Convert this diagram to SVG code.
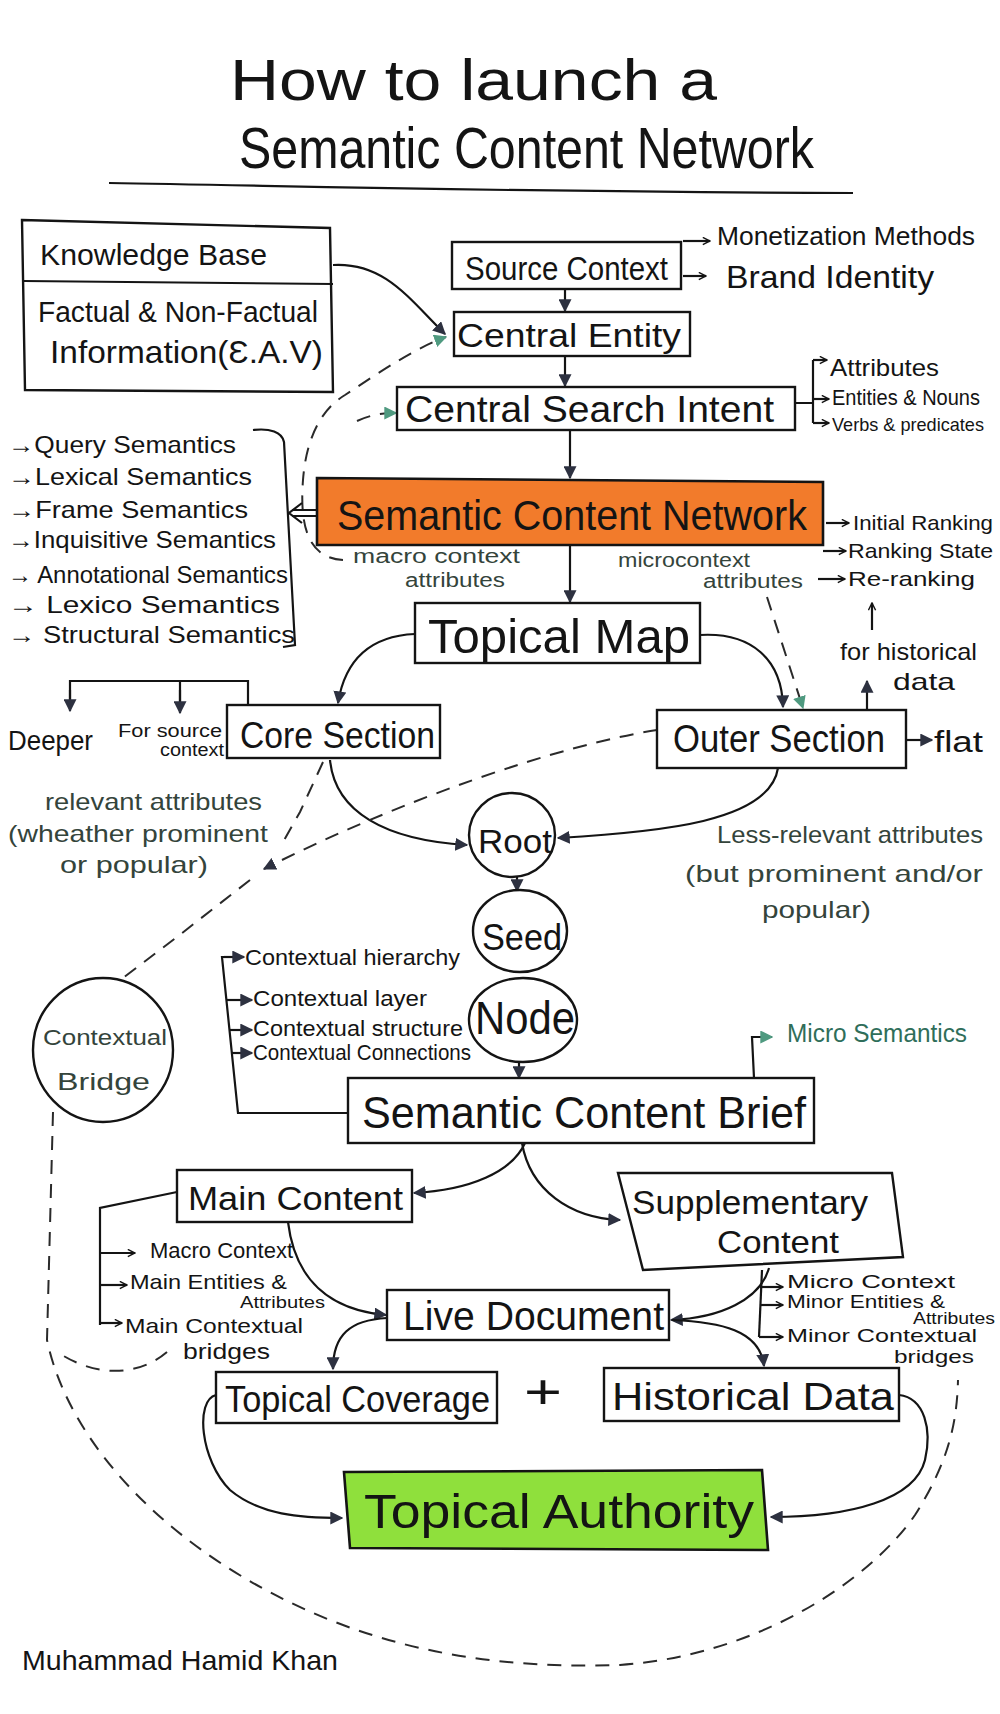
<svg xmlns="http://www.w3.org/2000/svg" width="1000" height="1714" viewBox="0 0 1000 1714">
<style>
.t{font-family:"Liberation Sans","DejaVu Sans",sans-serif;fill:#141414}
.an{font-family:"Liberation Sans","DejaVu Sans",sans-serif;fill:#34443b}
.gr{font-family:"Liberation Sans","DejaVu Sans",sans-serif;fill:#2f6e5a}
.box{fill:#fff;stroke:#141414;stroke-width:2.4}
.ln{fill:none;stroke:#141414;stroke-width:2.2}
.dash{fill:none;stroke:#2a2a2a;stroke-width:2;stroke-dasharray:14 10}
</style>
<defs>
<marker id="ah" viewBox="0 0 10 10" refX="9" refY="5" markerWidth="13" markerHeight="13" markerUnits="userSpaceOnUse" orient="auto"><path d="M0,0 L10,5 L0,10 z" fill="#2d3140"/></marker>
<marker id="ahg" viewBox="0 0 10 10" refX="9" refY="5" markerWidth="13" markerHeight="13" markerUnits="userSpaceOnUse" orient="auto"><path d="M0,0 L10,5 L0,10 z" fill="#4f9a80"/></marker>
<marker id="oa" viewBox="0 0 10 10" refX="9" refY="5" markerWidth="9" markerHeight="9" markerUnits="userSpaceOnUse" orient="auto"><path d="M1,1 L9,5 L1,9" fill="none" stroke="#141414" stroke-width="1.6"/></marker>
</defs>
<rect width="1000" height="1714" fill="#fff"/>

<g id="title">
<text class="t" x="230" y="100" font-size="58" textLength="487" lengthAdjust="spacingAndGlyphs">How to launch a</text>
<text class="t" x="239" y="168" font-size="58" textLength="575" lengthAdjust="spacingAndGlyphs">Semantic Content Network</text>
<path class="ln" d="M 109,183 C 300,186 500,192 853,193"/>
</g>

<g id="connectors">
<path class="ln" d="M 333,265 C 385,262 410,300 445,334" marker-end="url(#ah)"/>
<line class="ln" x1="565" y1="289" x2="565" y2="311" marker-end="url(#ah)"/>
<line class="ln" x1="565" y1="356" x2="565" y2="386" marker-end="url(#ah)"/>
<line class="ln" x1="570" y1="430" x2="570" y2="478" marker-end="url(#ah)"/>
<line class="ln" x1="570" y1="545" x2="570" y2="602" marker-end="url(#ah)"/>
<line class="ln" x1="683" y1="241" x2="710" y2="241" marker-end="url(#oa)"/>
<line class="ln" x1="683" y1="276" x2="706" y2="276" marker-end="url(#oa)"/>
<path class="ln" d="M 795,403 L 813,403 M 813,360 L 813,423"/>
<path class="ln" d="M 813,360 L 827,360" marker-end="url(#oa)"/>
<path class="ln" d="M 813,399 L 829,399" marker-end="url(#oa)"/>
<path class="ln" d="M 813,423 L 829,423" marker-end="url(#oa)"/>
<line class="ln" x1="826" y1="523" x2="849" y2="523" marker-end="url(#oa)"/>
<line class="ln" x1="823" y1="551" x2="846" y2="551" marker-end="url(#oa)"/>
<line class="ln" x1="818" y1="579" x2="845" y2="579" marker-end="url(#oa)"/>
<path class="dash" d="M 343,560 C 305,558 300,520 303,480 C 306,440 320,410 345,395 C 380,372 415,348 446,337" stroke-dasharray="13 9" marker-end="url(#ahg)"/>
<path class="dash" d="M 357,421 C 370,415 382,413 396,413" stroke-dasharray="10 7" marker-end="url(#ahg)"/>
<path class="ln" d="M 317,510 L 292,510 M 317,516 L 292,516 M 302,503 L 289,513 L 302,523"/>
<path class="ln" d="M 253,430 C 270,428 282,432 284,442 L 295,645 L 283,647"/>
<path class="dash" d="M 767,597 L 803,708" stroke-dasharray="12 8" marker-end="url(#ahg)"/>
<line class="ln" x1="872" y1="630" x2="872" y2="603" marker-end="url(#oa)"/>
<line class="ln" x1="867" y1="710" x2="867" y2="681" marker-end="url(#ah)"/>
<path class="ln" d="M 700,635 C 752,632 782,660 783,707" marker-end="url(#ah)"/>
<path class="ln" d="M 415,634 C 370,636 345,660 338,703" marker-end="url(#ah)"/>
<path class="ln" d="M 248,705 L 248,681 L 70,681 L 70,709 M 180,681 L 180,711"/>
<line class="ln" x1="70" y1="690" x2="70" y2="711" marker-end="url(#ah)"/>
<line class="ln" x1="180" y1="690" x2="180" y2="713" marker-end="url(#ah)"/>
<line class="ln" x1="906" y1="740" x2="932" y2="740" marker-end="url(#ah)"/>
<path class="ln" d="M 330,760 C 335,812 385,840 467,845" marker-end="url(#ah)"/>
<path class="ln" d="M 778,768 C 770,822 660,832 558,838" marker-end="url(#ah)"/>
<path class="dash" d="M 323,762 L 300,812 L 283,842"/>
<path class="dash" d="M 657,730 C 560,745 400,800 264,869" marker-end="url(#ah)"/>
<path class="dash" d="M 250,880 L 177,937 L 123,978"/>
<line class="ln" x1="517" y1="877" x2="517" y2="891" marker-end="url(#ah)"/>
<line class="ln" x1="519" y1="1062" x2="519" y2="1078" marker-end="url(#ah)"/>
<path class="ln" d="M 238,957 L 222,957 L 238,1113 L 348,1113"/>
<line class="ln" x1="224" y1="957" x2="244" y2="957" marker-end="url(#ah)"/>
<line class="ln" x1="227" y1="1000" x2="252" y2="1000" marker-end="url(#ah)"/>
<line class="ln" x1="230" y1="1030" x2="252" y2="1030" marker-end="url(#ah)"/>
<line class="ln" x1="232" y1="1053" x2="252" y2="1053" marker-end="url(#ah)"/>
<path class="ln" d="M 754,1078 L 752,1037 L 772,1037" stroke="#2f6e5a" stroke-width="1.8" marker-end="url(#ahg)"/>
<path class="ln" d="M 525,1143 C 512,1172 470,1190 414,1193" marker-end="url(#ah)"/>
<path class="ln" d="M 522,1143 C 530,1190 570,1218 620,1220" marker-end="url(#ah)"/>
<path class="ln" d="M 177,1192 L 100,1208 L 100,1325"/>
<line class="ln" x1="100" y1="1253" x2="135" y2="1253" marker-end="url(#oa)"/>
<line class="ln" x1="100" y1="1285" x2="127" y2="1285" marker-end="url(#oa)"/>
<line class="ln" x1="100" y1="1323" x2="122" y2="1323" marker-end="url(#oa)"/>
<path class="ln" d="M 288,1222 C 295,1280 330,1310 386,1315" marker-end="url(#ah)"/>
<path class="ln" d="M 387,1318 C 350,1320 333,1335 333,1369" marker-end="url(#ah)"/>
<path class="ln" d="M 769,1268 C 760,1300 720,1318 671,1320" marker-end="url(#ah)"/>
<path class="ln" d="M 672,1320 C 720,1322 760,1330 764,1366" marker-end="url(#ah)"/>
<path class="ln" d="M 762,1270 L 759,1337"/>
<line class="ln" x1="760" y1="1287" x2="783" y2="1287" marker-end="url(#oa)"/>
<line class="ln" x1="760" y1="1305" x2="783" y2="1305" marker-end="url(#oa)"/>
<line class="ln" x1="759" y1="1337" x2="783" y2="1337" marker-end="url(#oa)"/>
<path class="ln" d="M 216,1395 C 195,1400 200,1460 230,1490 C 260,1515 300,1518 342,1518" marker-end="url(#ah)"/>
<path class="ln" d="M 899,1395 C 925,1398 932,1430 925,1460 C 915,1500 850,1517 771,1517" marker-end="url(#ah)"/>
<path class="dash" d="M 53,1112 L 47,1340 C 70,1450 180,1560 330,1620 C 430,1660 530,1668 620,1665 C 760,1655 870,1580 915,1515 C 950,1460 957,1420 958,1380"/>
<path class="dash" d="M 167,1352 C 140,1375 100,1378 62,1355"/>
</g>

<g id="knowledge-base">
<path class="box" d="M 22,220 L 330,228 L 333,392 L 25,390 Z"/>
<line class="ln" x1="24" y1="281" x2="333" y2="284"/>
<text class="t" x="40" y="265" font-size="30" textLength="227" lengthAdjust="spacingAndGlyphs">Knowledge Base</text>
<text class="t" x="38" y="322" font-size="30" textLength="280" lengthAdjust="spacingAndGlyphs">Factual &amp; Non-Factual</text>
<text class="t" x="50" y="363" font-size="32" textLength="273" lengthAdjust="spacingAndGlyphs">Information(Ɛ.A.V)</text>
</g>

<g id="source-context">
<rect class="box" x="452" y="242" width="229" height="47"/>
<text class="t" x="465" y="280" font-size="34" textLength="203" lengthAdjust="spacingAndGlyphs">Source Context</text>
<text class="t" x="717" y="245" font-size="26" textLength="258" lengthAdjust="spacingAndGlyphs">Monetization Methods</text>
<text class="t" x="726" y="288" font-size="32" textLength="208" lengthAdjust="spacingAndGlyphs">Brand Identity</text>
</g>

<g id="central-entity">
<rect class="box" x="454" y="312" width="236" height="44"/>
<text class="t" x="457" y="347" font-size="34" textLength="224" lengthAdjust="spacingAndGlyphs">Central Entity</text>
</g>

<g id="central-search-intent">
<rect class="box" x="397" y="387" width="398" height="43"/>
<text class="t" x="405" y="422" font-size="36" textLength="369" lengthAdjust="spacingAndGlyphs">Central Search Intent</text>
<text class="t" x="830" y="376" font-size="24" textLength="109" lengthAdjust="spacingAndGlyphs">Attributes</text>
<text class="t" x="832" y="405" font-size="22" textLength="148" lengthAdjust="spacingAndGlyphs">Entities &amp; Nouns</text>
<text class="t" x="832" y="431" font-size="19" textLength="152" lengthAdjust="spacingAndGlyphs">Verbs &amp; predicates</text>
</g>

<g id="semantic-content-network">
<path d="M 317,478 L 823,482 L 823,545 L 317,545 Z" fill="#f27b2b" stroke="#141414" stroke-width="2.6"/>
<text class="t" x="337" y="530" font-size="42" textLength="470" lengthAdjust="spacingAndGlyphs">Semantic Content Network</text>
<text class="an" x="353" y="563" font-size="20" textLength="167" lengthAdjust="spacingAndGlyphs">macro context</text>
<text class="an" x="405" y="587" font-size="20" textLength="100" lengthAdjust="spacingAndGlyphs">attributes</text>
<text class="an" x="618" y="567" font-size="20" textLength="132" lengthAdjust="spacingAndGlyphs">microcontext</text>
<text class="an" x="703" y="588" font-size="20" textLength="100" lengthAdjust="spacingAndGlyphs">attributes</text>
<text class="t" x="853" y="530" font-size="21" textLength="140" lengthAdjust="spacingAndGlyphs">Initial Ranking</text>
<text class="t" x="848" y="558" font-size="21" textLength="145" lengthAdjust="spacingAndGlyphs">Ranking State</text>
<text class="t" x="848" y="586" font-size="21" textLength="127" lengthAdjust="spacingAndGlyphs">Re-ranking</text>
<text class="t" x="840" y="660" font-size="24" textLength="137" lengthAdjust="spacingAndGlyphs">for historical</text>
<text class="t" x="893" y="690" font-size="24" textLength="62" lengthAdjust="spacingAndGlyphs">data</text>
</g>

<g id="semantics-list">
<text class="t" x="8" y="453" font-size="24" textLength="228" lengthAdjust="spacingAndGlyphs">→Query Semantics</text>
<text class="t" x="8" y="485" font-size="24" textLength="244" lengthAdjust="spacingAndGlyphs">→Lexical Semantics</text>
<text class="t" x="8" y="518" font-size="24" textLength="240" lengthAdjust="spacingAndGlyphs">→Frame Semantics</text>
<text class="t" x="8" y="548" font-size="24" textLength="268" lengthAdjust="spacingAndGlyphs">→Inquisitive Semantics</text>
<text class="t" x="8" y="583" font-size="24" textLength="280" lengthAdjust="spacingAndGlyphs">→ Annotational Semantics</text>
<text class="t" x="8" y="613" font-size="24" textLength="272" lengthAdjust="spacingAndGlyphs">→ Lexico Semantics</text>
<text class="t" x="8" y="643" font-size="24" textLength="287" lengthAdjust="spacingAndGlyphs">→ Structural Semantics</text>
</g>

<g id="topical-map">
<rect class="box" x="415" y="603" width="285" height="60"/>
<text class="t" x="428" y="653" font-size="48" textLength="262" lengthAdjust="spacingAndGlyphs">Topical Map</text>
</g>

<g id="core-section">
<rect class="box" x="227" y="705" width="213" height="53"/>
<text class="t" x="240" y="748" font-size="36" textLength="195" lengthAdjust="spacingAndGlyphs">Core Section</text>
<text class="t" x="8" y="750" font-size="28" textLength="85" lengthAdjust="spacingAndGlyphs">Deeper</text>
<text class="t" x="118" y="737" font-size="18" textLength="104" lengthAdjust="spacingAndGlyphs">For source</text>
<text class="t" x="160" y="756" font-size="18" textLength="64" lengthAdjust="spacingAndGlyphs">context</text>
<text class="an" x="45" y="810" font-size="24" textLength="217" lengthAdjust="spacingAndGlyphs">relevant attributes</text>
<text class="an" x="8" y="842" font-size="24" textLength="260" lengthAdjust="spacingAndGlyphs">(wheather prominent</text>
<text class="an" x="60" y="873" font-size="24" textLength="148" lengthAdjust="spacingAndGlyphs">or popular)</text>
</g>

<g id="outer-section">
<rect class="box" x="657" y="710" width="249" height="58"/>
<text class="t" x="673" y="752" font-size="38" textLength="212" lengthAdjust="spacingAndGlyphs">Outer Section</text>
<text class="t" x="934" y="752" font-size="30" textLength="49" lengthAdjust="spacingAndGlyphs">flat</text>
<text class="an" x="717" y="843" font-size="24" textLength="266" lengthAdjust="spacingAndGlyphs">Less-relevant attributes</text>
<text class="an" x="685" y="882" font-size="24" textLength="298" lengthAdjust="spacingAndGlyphs">(but prominent and/or</text>
<text class="an" x="762" y="918" font-size="24" textLength="109" lengthAdjust="spacingAndGlyphs">popular)</text>
</g>

<g id="root">
<ellipse class="box" cx="512" cy="835" rx="43" ry="42"/>
<text class="t" x="478" y="853" font-size="34" textLength="74" lengthAdjust="spacingAndGlyphs">Root</text>
</g>

<g id="seed">
<ellipse class="box" cx="520" cy="931" rx="47" ry="41"/>
<text class="t" x="482" y="950" font-size="36" textLength="80" lengthAdjust="spacingAndGlyphs">Seed</text>
</g>

<g id="node">
<ellipse class="box" cx="523" cy="1020" rx="54" ry="42"/>
<text class="t" x="475" y="1034" font-size="46" textLength="100" lengthAdjust="spacingAndGlyphs">Node</text>
</g>

<g id="contextual-list">
<text class="t" x="245" y="965" font-size="22" textLength="215" lengthAdjust="spacingAndGlyphs">Contextual hierarchy</text>
<text class="t" x="253" y="1006" font-size="22" textLength="174" lengthAdjust="spacingAndGlyphs">Contextual layer</text>
<text class="t" x="253" y="1036" font-size="22" textLength="210" lengthAdjust="spacingAndGlyphs">Contextual structure</text>
<text class="t" x="253" y="1060" font-size="22" textLength="218" lengthAdjust="spacingAndGlyphs">Contextual Connections</text>
</g>

<g id="contextual-bridge">
<ellipse class="box" cx="103" cy="1050" rx="70" ry="72"/>
<text class="an" x="43" y="1045" font-size="22" textLength="124" lengthAdjust="spacingAndGlyphs">Contextual</text>
<text class="an" x="57" y="1090" font-size="24" textLength="93" lengthAdjust="spacingAndGlyphs">Bridge</text>
</g>

<g id="semantic-content-brief">
<rect class="box" x="348" y="1078" width="466" height="65"/>
<text class="t" x="362" y="1128" font-size="44" textLength="444" lengthAdjust="spacingAndGlyphs">Semantic Content Brief</text>
<text class="gr" x="787" y="1042" font-size="26" textLength="180" lengthAdjust="spacingAndGlyphs">Micro Semantics</text>
</g>

<g id="main-content">
<rect class="box" x="177" y="1170" width="235" height="52"/>
<text class="t" x="188" y="1210" font-size="34" textLength="215" lengthAdjust="spacingAndGlyphs">Main Content</text>
<text class="t" x="150" y="1258" font-size="22" textLength="143" lengthAdjust="spacingAndGlyphs">Macro Context</text>
<text class="t" x="130" y="1289" font-size="21" textLength="157" lengthAdjust="spacingAndGlyphs">Main Entities &amp;</text>
<text class="t" x="240" y="1308" font-size="17" textLength="85" lengthAdjust="spacingAndGlyphs">Attributes</text>
<text class="t" x="125" y="1333" font-size="21" textLength="178" lengthAdjust="spacingAndGlyphs">Main Contextual</text>
<text class="t" x="183" y="1359" font-size="22" textLength="87" lengthAdjust="spacingAndGlyphs">bridges</text>
</g>

<g id="supplementary-content">
<path class="box" d="M 618,1173 L 892,1173 L 903,1257 L 643,1270 Z"/>
<text class="t" x="632" y="1214" font-size="34" textLength="236" lengthAdjust="spacingAndGlyphs">Supplementary</text>
<text class="t" x="717" y="1253" font-size="32" textLength="122" lengthAdjust="spacingAndGlyphs">Content</text>
<text class="t" x="787" y="1288" font-size="19" textLength="168" lengthAdjust="spacingAndGlyphs">Micro Context</text>
<text class="t" x="787" y="1308" font-size="18" textLength="158" lengthAdjust="spacingAndGlyphs">Minor Entities &amp;</text>
<text class="t" x="913" y="1324" font-size="16" textLength="82" lengthAdjust="spacingAndGlyphs">Attributes</text>
<text class="t" x="787" y="1342" font-size="19" textLength="190" lengthAdjust="spacingAndGlyphs">Minor Contextual</text>
<text class="t" x="894" y="1363" font-size="19" textLength="80" lengthAdjust="spacingAndGlyphs">bridges</text>
</g>

<g id="live-document">
<rect class="box" x="387" y="1290" width="282" height="50"/>
<text class="t" x="403" y="1330" font-size="40" textLength="261" lengthAdjust="spacingAndGlyphs">Live Document</text>
</g>

<g id="topical-coverage">
<rect class="box" x="216" y="1372" width="281" height="51"/>
<text class="t" x="225" y="1412" font-size="36" textLength="265" lengthAdjust="spacingAndGlyphs">Topical Coverage</text>
</g>

<g id="plus">
<text class="t" x="524" y="1408" font-size="48" textLength="38" lengthAdjust="spacingAndGlyphs">+</text>
</g>

<g id="historical-data">
<rect class="box" x="604" y="1368" width="295" height="53"/>
<text class="t" x="612" y="1410" font-size="38" textLength="282" lengthAdjust="spacingAndGlyphs">Historical Data</text>
</g>

<g id="topical-authority">
<path d="M 344,1472 L 762,1470 L 768,1550 L 350,1548 Z" fill="#8fe03c" stroke="#141414" stroke-width="2.6"/>
<text class="t" x="364" y="1528" font-size="48" textLength="390" lengthAdjust="spacingAndGlyphs">Topical Authority</text>
</g>

<g id="signature">
<text class="t" x="22" y="1670" font-size="28" textLength="316" lengthAdjust="spacingAndGlyphs">Muhammad Hamid Khan</text>
</g>
</svg>
